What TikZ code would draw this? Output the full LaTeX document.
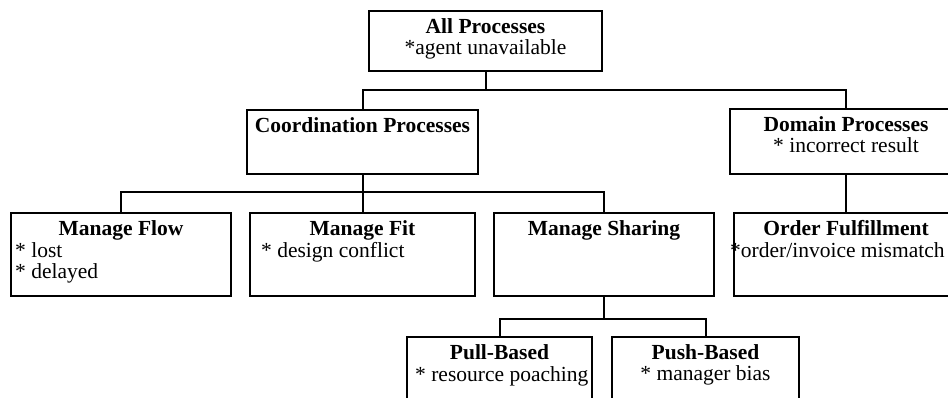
\documentclass[tikz,border=0pt]{standalone}
\usepackage{fontspec}
\setmainfont{Liberation Serif}
\usepackage{tikz}
\usetikzlibrary{positioning}
\tikzset{
  box/.style={draw, line width=2pt, anchor=north west, inner sep=0pt},
  txt/.style={inner sep=0pt, anchor=north, align=center, font=\fontsize{21.5}{21.5}\selectfont},
  ltxt/.style={txt, anchor=north west, align=left},
  link/.style={line width=2pt}
}

\begin{document}
\begin{tikzpicture}[x=1pt,y=-1pt]
  \useasboundingbox (0,0) rectangle (948,398);
  \clip (0,0) rectangle (948,398);
  % boxes
  \node[box, minimum width=233, minimum height=60] (all) at (368,10) {};
  \node[box, minimum width=231, minimum height=64] (coord) at (246,109) {};
  \node[box, minimum width=232, minimum height=65] (dom) at (729,108) {};
  \node[box, minimum width=220, minimum height=83] (flow) at (10,212) {};
  \node[box, minimum width=225, minimum height=83] (fit) at (249,212) {};
  \node[box, minimum width=220, minimum height=83] (share) at (493,212) {};
  \node[box, minimum width=224, minimum height=83] (order) at (733,212) {};
  \node[box, minimum width=185, minimum height=90] (pull) at (406,336) {};
  \node[box, minimum width=187, minimum height=90] (push) at (611,336) {};
  % texts
  \node[txt] (allT) at ([yshift=-8]all.north) {\strut\textbf{All Processes}\\{}*agent unavailable};
  \node[txt] (coordT) at ([yshift=-8]coord.north) {\strut\textbf{Coordination Processes}};
  \node[txt] (domT) at ([yshift=-8]dom.north) {\strut\textbf{Domain Processes}\\{}* incorrect result};
  \node[txt] (flowT) at ([yshift=-8]flow.north) {\strut\textbf{Manage Flow}};
  \node[ltxt] (flowL) at ([xshift=5,yshift=-30]flow.north west) {\strut* lost\\{}* delayed};
  \node[txt] (fitT) at ([yshift=-8]fit.north) {\strut\textbf{Manage Fit}};
  \node[ltxt] (fitL) at ([xshift=12,yshift=-30]fit.north west) {\strut* design conflict};
  \node[txt] (shareT) at ([yshift=-8]share.north) {\strut\textbf{Manage Sharing}};
  \node[txt] (orderT) at ([yshift=-8]order.north) {\strut\textbf{Order Fulfillment}};
  \node[ltxt] (orderL) at ([xshift=-3,yshift=-30]order.north west) {\strut*order/invoice mismatch};
  \node[txt] (pullT) at ([yshift=-8]pull.north) {\strut\textbf{Pull-Based}};
  \node[ltxt] (pullL) at ([xshift=9,yshift=-30]pull.north west) {\strut* resource poaching};
  \node[txt] (pushT) at ([yshift=-8]push.north) {\strut\textbf{Push-Based}\\{}* manager bias};
  % tree lines
  \coordinate (j1) at (0,90);
  \coordinate (j2) at (0,192);
  \coordinate (j3) at (0,319);
  \draw[link] (all.south) -- (all.south |- j1) -| (coord.north);
  \draw[link] (all.south |- j1) -| (dom.north);
  \draw[link] (coord.south) -- (fit.north);
  \draw[link] (coord.south |- j2) -| (flow.north);
  \draw[link] (coord.south |- j2) -| (share.north);
  \draw[link] (dom.south) -- (order.north);
  \draw[link] (share.south) -- (share.south |- j3) -| (pull.north);
  \draw[link] (share.south |- j3) -| (push.north);
\end{tikzpicture}
\end{document}
